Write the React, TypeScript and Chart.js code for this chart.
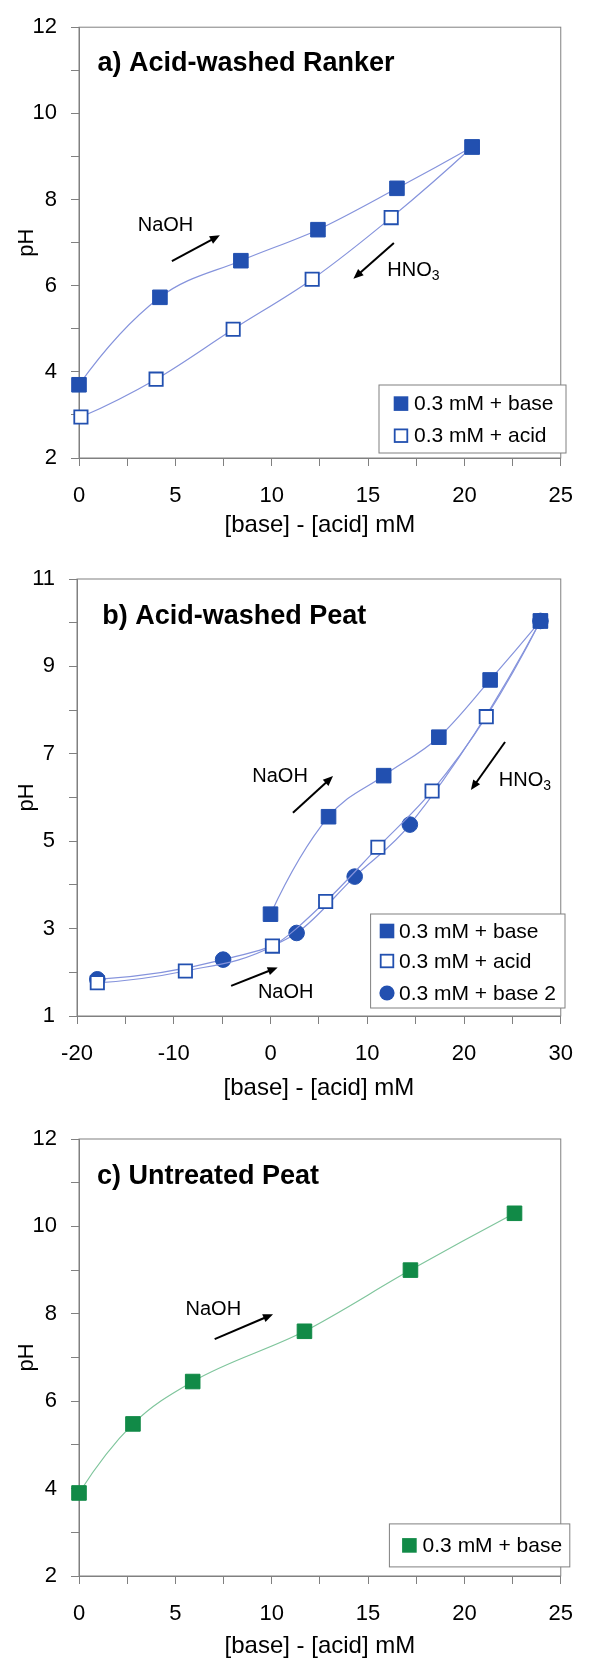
import React, { useEffect, useRef } from 'react';
import { Chart, registerables } from 'chart.js';

Chart.register(...registerables);

const FONT = "'Liberation Sans', Arial, Helvetica, sans-serif";
const BLUE = '#2250b0';
const BLUE_LINE = '#8593dc';
const GREEN = '#118a47';
const GREEN_LINE = '#7fc59c';
const AXIS = '#808080';

// ---------- a) Acid-washed Ranker ----------
const rankerBaseX = [0, 4.2, 8.4, 12.4, 16.5, 20.4];
const rankerBaseY = [3.7, 5.73, 6.58, 7.3, 8.26, 9.22];
const rankerAcidX = [20.4, 16.2, 12.1, 8.0, 4.0, 0.1];
const rankerAcidY = [9.22, 7.58, 6.15, 4.99, 3.83, 2.95];

// ---------- b) Acid-washed Peat ----------
const peatBaseX = [0, 6.0, 11.7, 17.4, 22.7, 27.9];
const peatBaseY = [3.33, 5.56, 6.5, 7.38, 8.69, 10.04];
const peatAcidX = [27.9, 22.3, 16.7, 11.1, 5.7, 0.2, -8.8, -17.9];
const peatAcidY = [10.04, 7.85, 6.15, 4.86, 3.62, 2.6, 2.03, 1.76];
const peatBase2X = [-17.9, -4.9, 2.7, 8.7, 14.4, 27.9];
const peatBase2Y = [1.84, 2.29, 2.9, 4.19, 5.38, 10.04];

// ---------- c) Untreated Peat ----------
const untreatedBaseX = [0, 2.8, 5.9, 11.7, 17.2, 22.6];
const untreatedBaseY = [3.9, 5.48, 6.45, 7.6, 9.0, 10.3];

// tick definitions
const xTicksA = { min: 0, max: 25, step: 2.5, labelEvery: 5 };
const yTicksA = { min: 2, max: 12, step: 1, labelEvery: 2 };
const xTicksB = { min: -20, max: 30, step: 5, labelEvery: 10 };
const yTicksB = { min: 1, max: 11, step: 1, labelEvery: 2 };

const xTitle = '[base] - [acid] mM';
const yTitle = 'pH';
const legendBase = '0.3 mM + base';
const legendAcid = '0.3 mM + acid';
const legendBase2 = '0.3 mM + base 2';

const zip = (xs: number[], ys: number[]) => xs.map((x, i) => ({ x, y: ys[i] }));

type Marker = 'fillSquare' | 'openSquare' | 'circle';

function makeDataset(label: string, xs: number[], ys: number[], marker: Marker, color: string, lineColor: string) {
  const base: any = {
    label,
    data: zip(xs, ys),
    showLine: true,
    borderColor: lineColor,
    borderWidth: 1.2,
    cubicInterpolationMode: 'monotone',
    tension: 0.4,
    clip: false,
    pointBorderColor: color,
    pointHoverRadius: 0,
  };
  if (marker === 'fillSquare') {
    Object.assign(base, { pointStyle: 'rect', pointRadius: 10.3, pointBackgroundColor: color, pointBorderWidth: 1 });
  } else if (marker === 'openSquare') {
    Object.assign(base, { pointStyle: 'rect', pointRadius: 9.4, pointBackgroundColor: '#ffffff', pointBorderWidth: 1.8 });
  } else {
    Object.assign(base, { pointStyle: 'circle', pointRadius: 7.8, pointBackgroundColor: color, pointBorderWidth: 1 });
  }
  return base;
}

interface LegendItem { label: string; marker: Marker; color: string }
interface PanelSpec {
  top: number;
  height: number;
  plot: { left: number; right: number; top: number; bottom: number };
  xt: { min: number; max: number; step: number; labelEvery: number };
  yt: { min: number; max: number; step: number; labelEvery: number };
  yTitleX: number;
  xTitleY: number;
  title: { text: string; x: number; y: number };
  datasets: any[];
  legend: { left: number; top: number; width: number; height: number; rows: number[]; markerX: number; textX: number; items: LegendItem[] };
  notes: { text: string; sub?: string; x: number; y: number; align: CanvasTextAlign }[];
  arrows: { x1: number; y1: number; x2: number; y2: number }[];
}

const panels: PanelSpec[] = [
  {
    top: 0,
    height: 548,
    plot: { left: 79, right: 573, top: 20, bottom: 458 },
    xt: xTicksA,
    yt: yTicksA,
    yTitleX: 27,
    xTitleY: 525,
    title: { text: 'a) Acid-washed Ranker', x: 0.96, y: 11.16 },
    datasets: [
      makeDataset(legendBase, rankerBaseX, rankerBaseY, 'fillSquare', BLUE, BLUE_LINE),
      makeDataset(legendAcid, rankerAcidX, rankerAcidY, 'openSquare', BLUE, BLUE_LINE),
    ],
    legend: {
      left: 379, top: 385, width: 187, height: 68, rows: [403.6, 435.7], markerX: 401, textX: 414,
      items: [
        { label: legendBase, marker: 'fillSquare', color: BLUE },
        { label: legendAcid, marker: 'openSquare', color: BLUE },
      ],
    },
    notes: [
      { text: 'NaOH', x: 4.49, y: 7.39, align: 'center' },
      { text: 'HNO', sub: '3', x: 16.0, y: 6.36, align: 'left' },
    ],
    arrows: [
      { x1: 4.82, y1: 6.57, x2: 7.31, y2: 7.17 },
      { x1: 16.34, y1: 6.99, x2: 14.24, y2: 6.16 },
    ],
  },
  {
    top: 548,
    height: 562,
    plot: { left: 77, right: 572, top: 579, bottom: 1016 },
    xt: xTicksB,
    yt: yTicksB,
    yTitleX: 27,
    xTitleY: 1088,
    title: { text: 'b) Acid-washed Peat', x: -17.4, y: 10.13 },
    datasets: [
      makeDataset(legendBase, peatBaseX, peatBaseY, 'fillSquare', BLUE, BLUE_LINE),
      makeDataset(legendAcid, peatAcidX, peatAcidY, 'openSquare', BLUE, BLUE_LINE),
      makeDataset(legendBase2, peatBase2X, peatBase2Y, 'circle', BLUE, BLUE_LINE),
    ],
    legend: {
      left: 370.6, top: 914, width: 194.4, height: 94, rows: [931, 961, 993], markerX: 387, textX: 399,
      items: [
        { label: legendBase, marker: 'fillSquare', color: BLUE },
        { label: legendAcid, marker: 'openSquare', color: BLUE },
        { label: legendBase2, marker: 'circle', color: BLUE },
      ],
    },
    notes: [
      { text: 'NaOH', x: 0.99, y: 6.48, align: 'center' },
      { text: 'HNO', sub: '3', x: 23.6, y: 6.4, align: 'left' },
      { text: 'NaOH', x: 1.57, y: 1.53, align: 'center' },
    ],
    arrows: [
      { x1: 2.32, y1: 5.65, x2: 6.46, y2: 6.49 },
      { x1: 24.24, y1: 7.27, x2: 20.71, y2: 6.17 },
      { x1: -4.07, y1: 1.69, x2: 0.74, y2: 2.11 },
    ],
  },
  {
    top: 1110,
    height: 551,
    plot: { left: 79, right: 576, top: 1139, bottom: 1576 },
    xt: xTicksA,
    yt: yTicksA,
    yTitleX: 27,
    xTitleY: 1646,
    title: { text: 'c) Untreated Peat', x: 0.93, y: 11.15 },
    datasets: [makeDataset(legendBase, untreatedBaseX, untreatedBaseY, 'fillSquare', GREEN, GREEN_LINE)],
    legend: {
      left: 389.4, top: 1523.9, width: 180.4, height: 43, rows: [1545.4], markerX: 409.4, textX: 422.6,
      items: [{ label: legendBase, marker: 'fillSquare', color: GREEN }],
    },
    notes: [{ text: 'NaOH', x: 6.97, y: 8.11, align: 'center' }],
    arrows: [{ x1: 7.04, y1: 7.42, x2: 10.07, y2: 7.99 }],
  },
];

function drawMarker(ctx: CanvasRenderingContext2D, m: Marker, color: string, x: number, y: number) {
  ctx.save();
  if (m === 'fillSquare') {
    ctx.fillStyle = color;
    ctx.fillRect(x - 7.3, y - 7.3, 14.6, 14.6);
  } else if (m === 'openSquare') {
    ctx.fillStyle = '#fff';
    ctx.strokeStyle = color;
    ctx.lineWidth = 1.8;
    ctx.fillRect(x - 6.3, y - 6.3, 12.6, 12.6);
    ctx.strokeRect(x - 6.3, y - 6.3, 12.6, 12.6);
  } else {
    ctx.fillStyle = color;
    ctx.beginPath();
    ctx.arc(x, y, 7.6, 0, Math.PI * 2);
    ctx.fill();
  }
  ctx.restore();
}

function drawArrow(ctx: CanvasRenderingContext2D, x1: number, y1: number, x2: number, y2: number) {
  const ang = Math.atan2(y2 - y1, x2 - x1);
  const head = 10;
  const half = 4.2;
  ctx.save();
  ctx.strokeStyle = '#000';
  ctx.fillStyle = '#000';
  ctx.lineWidth = 2;
  ctx.beginPath();
  ctx.moveTo(x1, y1);
  ctx.lineTo(x2 - Math.cos(ang) * (head - 1), y2 - Math.sin(ang) * (head - 1));
  ctx.stroke();
  ctx.beginPath();
  ctx.moveTo(x2, y2);
  ctx.lineTo(x2 - Math.cos(ang) * head - Math.sin(ang) * half, y2 - Math.sin(ang) * head + Math.cos(ang) * half);
  ctx.lineTo(x2 - Math.cos(ang) * head + Math.sin(ang) * half, y2 - Math.sin(ang) * head - Math.cos(ang) * half);
  ctx.closePath();
  ctx.fill();
  ctx.restore();
}

function makeTickCallback(labelEvery: number, origin: number) {
  return (v: any) => {
    const n = Number(v);
    const r = Math.abs((n - origin) / labelEvery - Math.round((n - origin) / labelEvery));
    return r < 1e-6 ? String(Math.round(n * 100) / 100) : '';
  };
}

// Excel-like smoothed ends: make the end segments quadratic-like
// (end tangent reflected from the neighbouring point's tangent).
const smoothEnds = {
  id: 'smoothEnds',
  beforeDatasetsDraw(chart: any) {
    chart.data.datasets.forEach((_: any, i: number) => {
      const meta = chart.getDatasetMeta(i);
      const line = meta.dataset;
      if (!line || !line.updateControlPoints) return;
      line.updateControlPoints(chart.chartArea, 'x');
      const pts = meta.data;
      const n = pts.length;
      if (n < 3) return;
      const p0 = pts[0];
      const p1 = pts[1];
      const q0x = p1.x + 1.5 * (p1.cp1x - p1.x);
      const q0y = p1.y + 1.5 * (p1.cp1y - p1.y);
      p0.cp2x = p0.x + (2 / 3) * (q0x - p0.x);
      p0.cp2y = p0.y + (2 / 3) * (q0y - p0.y);
      const pn = pts[n - 1];
      const pm = pts[n - 2];
      const qnx = pm.x + 1.5 * (pm.cp2x - pm.x);
      const qny = pm.y + 1.5 * (pm.cp2y - pm.y);
      pn.cp1x = pn.x + (2 / 3) * (qnx - pn.x);
      pn.cp1y = pn.y + (2 / 3) * (qny - pn.y);
    });
  },
};

function Panel({ spec }: { spec: PanelSpec }) {
  const ref = useRef<HTMLCanvasElement>(null);
  useEffect(() => {
    const s = spec;
    const canvas = ref.current!;
    const padTop = s.plot.top - s.top;
    const padRight = 590 - s.plot.right;
    const xAxisH = s.top + s.height - s.plot.bottom;
    const yAxisW = s.plot.left;
    const xTitleSize = 24;
    const yTitleSize = 22;
    const xTitlePadBottom = s.top + s.height - s.xTitleY - (xTitleSize * 1.2) / 2;
    const yTitlePadTop = s.yTitleX - (yTitleSize * 1.2) / 2;

    const decor = {
      id: 'decor',
      beforeDatasetsDraw(chart: any) {
        const { ctx, chartArea } = chart;
        ctx.save();
        ctx.strokeStyle = AXIS;
        ctx.lineWidth = 1;
        ctx.strokeRect(chartArea.left, chartArea.top, chartArea.right - chartArea.left, chartArea.bottom - chartArea.top);
        ctx.restore();
      },
      afterDatasetsDraw(chart: any) {
        const { ctx } = chart;
        const xs = chart.scales.x;
        const ys = chart.scales.y;
        ctx.save();
        // panel title
        ctx.fillStyle = '#000';
        ctx.font = `bold 27px ${FONT}`;
        ctx.textAlign = 'left';
        ctx.textBaseline = 'middle';
        ctx.fillText(s.title.text, xs.getPixelForValue(s.title.x), ys.getPixelForValue(s.title.y));
        // notes
        for (const n of s.notes) {
          const px = xs.getPixelForValue(n.x);
          const py = ys.getPixelForValue(n.y);
          ctx.font = `20px ${FONT}`;
          ctx.textAlign = n.align;
          ctx.fillText(n.text, px, py);
          if (n.sub) {
            const w = ctx.measureText(n.text).width;
            ctx.font = `14px ${FONT}`;
            ctx.textAlign = 'left';
            ctx.fillText(n.sub, px + w, py + 6);
          }
        }
        for (const a of s.arrows) {
          drawArrow(ctx, xs.getPixelForValue(a.x1), ys.getPixelForValue(a.y1), xs.getPixelForValue(a.x2), ys.getPixelForValue(a.y2));
        }
        // legend
        const L = s.legend;
        const top = L.top - s.top;
        ctx.fillStyle = '#fff';
        ctx.fillRect(L.left, top, L.width, L.height);
        ctx.strokeStyle = AXIS;
        ctx.lineWidth = 1;
        ctx.strokeRect(L.left, top, L.width, L.height);
        L.items.forEach((it, i) => {
          const ry = L.rows[i] - s.top;
          drawMarker(ctx, it.marker, it.color, L.markerX, ry);
          ctx.fillStyle = '#000';
          ctx.font = `21px ${FONT}`;
          ctx.textAlign = 'left';
          ctx.textBaseline = 'middle';
          ctx.fillText(it.label, L.textX, ry + 1);
        });
        ctx.restore();
      },
    };

    const chart = new Chart(canvas, {
      type: 'scatter',
      data: { datasets: s.datasets },
      options: {
        animation: false,
        responsive: false,
        devicePixelRatio: 1,
        events: [],
        layout: { padding: { left: 0, right: padRight, top: padTop, bottom: 0 } },
        plugins: { legend: { display: false }, tooltip: { enabled: false } },
        scales: {
          x: {
            type: 'linear',
            position: 'bottom',
            min: s.xt.min,
            max: s.xt.max,
            afterFit: (sc: any) => {
              sc.height = xAxisH;
            },
            ticks: {
              stepSize: s.xt.step,
              autoSkip: false,
              maxRotation: 0,
              minRotation: 0,
              padding: 17,
              color: '#000',
              font: { family: FONT, size: 22 },
              callback: makeTickCallback(s.xt.labelEvery, s.xt.min),
            },
            grid: { drawOnChartArea: false, drawTicks: true, tickLength: 8, color: AXIS, lineWidth: 1 },
            border: { display: true, color: AXIS, width: 1 },
            title: {
              display: true,
              text: xTitle,
              color: '#000',
              font: { family: FONT, size: xTitleSize },
              padding: { top: 0, bottom: xTitlePadBottom },
            },
          },
          y: {
            type: 'linear',
            position: 'left',
            min: s.yt.min,
            max: s.yt.max,
            afterFit: (sc: any) => {
              sc.width = yAxisW;
            },
            ticks: {
              stepSize: s.yt.step,
              autoSkip: false,
              padding: 14,
              color: '#000',
              font: { family: FONT, size: 22 },
              callback: makeTickCallback(s.yt.labelEvery, s.yt.min),
            },
            grid: { drawOnChartArea: false, drawTicks: true, tickLength: 8, color: AXIS, lineWidth: 1 },
            border: { display: true, color: AXIS, width: 1 },
            title: {
              display: true,
              text: yTitle,
              color: '#000',
              font: { family: FONT, size: yTitleSize },
              padding: { top: yTitlePadTop, bottom: 0 },
            },
          },
        },
      } as any,
      plugins: [smoothEnds, decor],
    });
    return () => chart.destroy();
  }, [spec]);
  return (
    <canvas
      ref={ref}
      width={590}
      height={spec.height}
      style={{ position: 'absolute', left: 0, top: spec.top, width: 590, height: spec.height }}
    />
  );
}

export default function App() {
  return (
    <div style={{ position: 'absolute', left: 0, top: 0, width: 590, height: 1661, background: '#fff' }}>
      {panels.map((p, i) => (
        <Panel key={i} spec={p} />
      ))}
    </div>
  );
}
